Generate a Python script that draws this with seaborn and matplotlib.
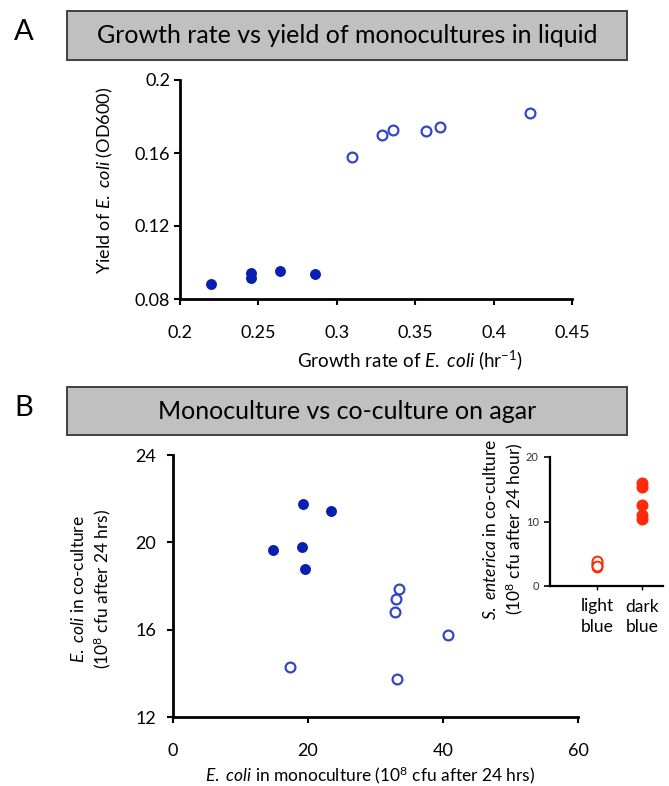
import numpy as np
import pandas as pd
import matplotlib
matplotlib.use('Agg')
import matplotlib.pyplot as plt
import seaborn as sns
from matplotlib.patches import Rectangle

# Panel A: growth rate vs yield in liquid monoculture
dark_rate = [0.220, 0.245, 0.245, 0.264, 0.286]
dark_yield = [0.088, 0.0945, 0.0915, 0.0955, 0.0935]
light_rate = [0.310, 0.329, 0.336, 0.357, 0.366, 0.423]
light_yield = [0.158, 0.170, 0.1725, 0.172, 0.174, 0.182]
a_xticks = [0.2, 0.25, 0.3, 0.35, 0.4, 0.45]
a_xlabels = ['0.2', '0.25', '0.3', '0.35', '0.4', '0.45']
a_yticks = [0.08, 0.12, 0.16, 0.2]
a_ylabels = ['0.08', '0.12', '0.16', '0.2']

# Panel B: monoculture vs co-culture on agar (10^8 cfu)
dark_mono = [19.3, 23.4, 14.8, 19.1, 19.6]
dark_co = [21.76, 21.45, 19.65, 19.8, 18.78]
light_mono = [17.3, 33.5, 33.1, 32.9, 40.7, 33.2]
light_co = [14.27, 17.85, 17.4, 16.83, 15.76, 13.73]
b_xticks = [0, 20, 40, 60]
b_yticks = [12, 16, 20, 24]

# Inset: S. enterica in co-culture
inset_groups = ['light\nblue', 'dark\nblue']
senterica_light = [3.0, 3.2, 3.4, 3.7, 3.9, 3.1]
senterica_dark = [15.9, 15.3, 12.6, 11.0, 10.4]
inset_yticks = [0, 10, 20]

DARK = '#0a1fb0'
LIGHT = '#3347c4'
RED = '#ff2a0a'

sns.set_style('ticks')
plt.rcParams['font.family'] = ['Lato', 'DejaVu Sans']
plt.rcParams['mathtext.fontset'] = 'custom'
plt.rcParams['mathtext.rm'] = 'Lato'
plt.rcParams['mathtext.it'] = 'Lato:italic'
plt.rcParams['text.color'] = 'black'
plt.rcParams['axes.labelcolor'] = 'black'

W, H = 669, 786
fig = plt.figure(figsize=(W / 100, H / 100), dpi=100)


def px_axes(l, t, r, b):
    return fig.add_axes([l / W, 1 - b / H, (r - l) / W, (b - t) / H])


def style_axes(ax, size=13, xpad=15, ypad=3, lw=2):
    sns.despine(ax=ax)
    for s in ['left', 'bottom']:
        ax.spines[s].set_linewidth(lw)
        ax.spines[s].set_color('black')
    ax.tick_params(direction='out', length=4, width=1.5, labelsize=size, colors='black')
    ax.tick_params(axis='x', pad=xpad)
    ax.tick_params(axis='y', pad=ypad)
    ax.set_facecolor('white')


def title_box(t, b, text, letter):
    fig.patches.append(Rectangle((67 / W, 1 - b / H), (627 - 67) / W, (b - t) / H,
                                 transform=fig.transFigure, facecolor='#c0c0c0',
                                 edgecolor='#404040', linewidth=1.4))
    fig.text(347 / W, 1 - (t + b) / 2 / H, text, ha='center', va='center', fontsize=18)
    fig.text(14 / W, 1 - (t + b) / 2 / H + 0.004, letter, ha='left', va='center', fontsize=21)


# ---- Panel A ----
title_box(11, 60, 'Growth rate vs yield of monocultures in liquid', 'A')
axA = px_axes(180, 80, 572, 299)
dfa = pd.DataFrame({'rate': dark_rate + light_rate,
                    'yield': dark_yield + light_yield,
                    'group': ['dark'] * len(dark_rate) + ['light'] * len(light_rate)})
sns.scatterplot(data=dfa[dfa.group == 'dark'], x='rate', y='yield', ax=axA,
                color=DARK, s=62, linewidth=0, legend=False)
sns.scatterplot(data=dfa[dfa.group == 'light'], x='rate', y='yield', ax=axA,
                facecolor='white', edgecolor=LIGHT, s=50, linewidth=1.6, legend=False)
axA.set_xlim(0.2, 0.45)
axA.set_ylim(0.08, 0.2)
axA.set_xticks(a_xticks, a_xlabels)
axA.set_yticks(a_yticks, a_ylabels)
style_axes(axA, size=13, xpad=15, ypad=3)
axA.set_xlabel('Growth rate of $\\mathit{E.\\ coli}$ (hr$^{-1}$)', fontsize=13.5)
axA.set_ylabel('Yield of $\\mathit{E.\\ coli}$ (OD600)', fontsize=13)
axA.xaxis.set_label_coords(0.587, -0.225)
axA.yaxis.set_label_coords(-0.166, 0.54)

# ---- Panel B ----
title_box(387, 435, 'Monoculture vs co-culture on agar', 'B')
axB = px_axes(173, 455, 578, 717)
dfb = pd.DataFrame({'mono': dark_mono + light_mono,
                    'co': dark_co + light_co,
                    'group': ['dark'] * len(dark_mono) + ['light'] * len(light_mono)})
sns.scatterplot(data=dfb[dfb.group == 'dark'], x='mono', y='co', ax=axB,
                color=DARK, s=62, linewidth=0, legend=False)
sns.scatterplot(data=dfb[dfb.group == 'light'], x='mono', y='co', ax=axB,
                facecolor='white', edgecolor=LIGHT, s=50, linewidth=1.6, legend=False)
axB.set_xlim(0, 60)
axB.set_ylim(12, 24)
axB.set_xticks(b_xticks)
axB.set_yticks(b_yticks)
style_axes(axB, size=13, xpad=15, ypad=8)
axB.set_xlabel('$\\mathit{E.\\ coli}$ in monoculture (10$^8$ cfu after 24 hrs)', fontsize=12.5)
axB.set_ylabel('$\\mathit{E.\\ coli}$ in co-culture\n(10$^8$ cfu after 24 hrs)',
               fontsize=12.5, linespacing=1.25)
axB.xaxis.set_label_coords(0.486, -0.183)
axB.yaxis.set_label_coords(-0.148, 0.49)

# ---- Inset ----
axI = px_axes(550, 457, 663, 586)
dfi = pd.DataFrame({'group': [inset_groups[0]] * len(senterica_light) + [inset_groups[1]] * len(senterica_dark),
                    'cfu': senterica_light + senterica_dark})
dfi['pos'] = dfi['group'].map({g: i for i, g in enumerate(inset_groups)})
sns.scatterplot(data=dfi[dfi.pos == 0], x='pos', y='cfu', ax=axI,
                facecolor='white', edgecolor=RED, s=50, linewidth=1.4, legend=False)
sns.scatterplot(data=dfi[dfi.pos == 1], x='pos', y='cfu', ax=axI,
                color=RED, s=75, linewidth=0, legend=False)
axI.set_xlim(-1.04, 1.47)
axI.set_ylim(0, 20)
axI.set_xticks([0, 1], inset_groups)
axI.set_yticks(inset_yticks)
style_axes(axI, size=8, xpad=6, ypad=4, lw=1.6)
axI.tick_params(axis='x', labelsize=12.5, length=3, width=1)
axI.tick_params(axis='y', length=4, width=1.2, labelcolor='#333333')
for lab in axI.get_xticklabels():
    lab.set_linespacing(1.35)
axI.set_xlabel('')
axI.set_ylabel('$\\mathit{S.\\ enterica}$ in co-culture\n(10$^8$ cfu after 24 hour)',
               fontsize=12.5, linespacing=1.25)
axI.yaxis.set_label_coords(-0.22, 0.44)

fig.savefig('out.png', dpi=100, facecolor='white')
